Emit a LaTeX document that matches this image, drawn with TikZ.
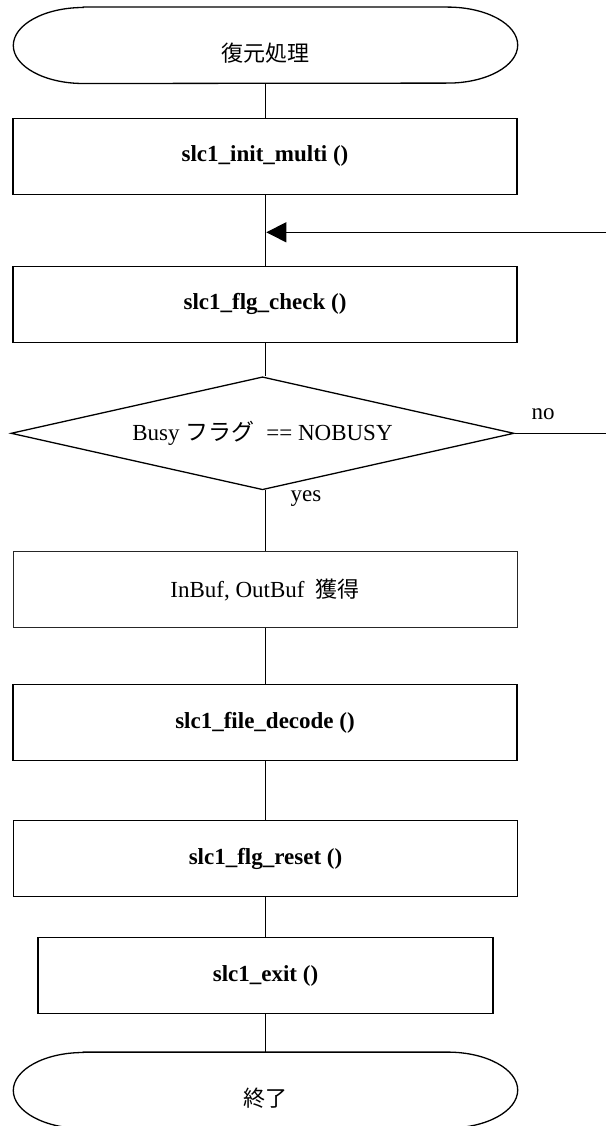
\documentclass[tikz,border=0pt]{standalone}
\usepackage{fontspec}
\setmainfont{Liberation Serif}
\newfontfamily\cjk{Noto Sans CJK JP}
\usetikzlibrary{shapes.geometric,arrows.meta}
\tikzset{
  flowline/.style={line width=1.3pt,black},
  procbox/.style={draw,line width=1.3pt,rectangle,minimum width=504pt,minimum height=76pt,inner sep=0pt,
    font=\fontsize{23}{27}\selectfont\bfseries},
  plainbox/.style={draw=black!85,line width=0.9pt,rectangle,minimum width=504pt,minimum height=76pt,inner sep=0pt,
    font=\fontsize{23}{27}\selectfont},
  termnode/.style={rectangle,minimum width=504pt,minimum height=76pt,inner sep=0pt,
    text height=32pt,text depth=0pt,font=\fontsize{22}{26}\selectfont\cjk},
  decision/.style={draw,line width=1.3pt,diamond,aspect=4.45,minimum width=503pt,minimum height=113pt,inner sep=0pt,
    font=\fontsize{23}{27}\selectfont},
  lbl/.style={font=\fontsize{23}{27}\selectfont,inner sep=0pt}
}
\newcommand{\termshape}[1]{%
  \draw[line width=1.3pt] ($(#1.north west)+(70pt,0)$) -- ($(#1.north east)+(-70pt,0)$)
    arc[start angle=90,end angle=-90,x radius=70pt,y radius=38pt]
    -- ($(#1.south west)+(70pt,0)$)
    arc[start angle=270,end angle=90,x radius=70pt,y radius=38pt] -- cycle;}
\usetikzlibrary{calc}
\begin{document}
\begin{tikzpicture}[x=1pt,y=1pt]
\useasboundingbox (0,0) rectangle (606,-1126);
\node[termnode] (start) at (265.5,-45.3) {復元処理};
\termshape{start}
\node[procbox] (b1) at (265,-156.3) {slc1\_init\_multi ()};
\node[procbox] (b2) at (265,-304.2) {slc1\_flg\_check ()};
\node[decision] (dec) at (262.5,-433.3) {Busy {\cjk フラグ}\hspace{12pt}== NOBUSY};
\node[plainbox] (b3) at (265,-589.5) {InBuf, OutBuf\hspace{11pt}{\fontsize{22}{26}\selectfont\cjk 獲得}};
\node[procbox] (b4) at (265,-722.7) {slc1\_file\_decode ()};
\node[procbox] (b5) at (265.5,-858.7) {slc1\_flg\_reset ()};
\node[procbox,minimum width=455pt] (b6) at (265.5,-975.7) {slc1\_exit ()};
\node[termnode] (stop) at (265.5,-1090.3) {終了};
\termshape{stop}
\node[lbl] (no) at (543,-414) {no};
\node[lbl] (yes) at (306,-499) {yes};
\coordinate (noend) at (606,-433.3);
\coordinate (back) at (606,-232.3);
\coordinate (join) at (266.3,-232.3);
\draw[flowline] (start.south -| 265.7,0) -- (b1.north -| 265.7,0);
\draw[flowline] (b1.south -| 265.7,0) -- (b2.north -| 265.7,0);
\draw[flowline] (b2.south -| 265.7,0) -- (dec.north -| 265.7,0);
\draw[flowline] (dec.south -| 265.7,0) -- (b3.north -| 265.7,0);
\draw[flowline] (b3.south -| 265.7,0) -- (b4.north -| 265.7,0);
\draw[flowline] (b4.south -| 265.7,0) -- (b5.north -| 265.7,0);
\draw[flowline] (b5.south -| 265.7,0) -- (b6.north -| 265.7,0);
\draw[flowline] (b6.south -| 265.7,0) -- (stop.north -| 265.7,0);
\draw[flowline] (dec.east) -- (noend);
\draw[flowline,-{Triangle[length=20pt,width=20pt]}] (back) -- (join);
\end{tikzpicture}
\end{document}
